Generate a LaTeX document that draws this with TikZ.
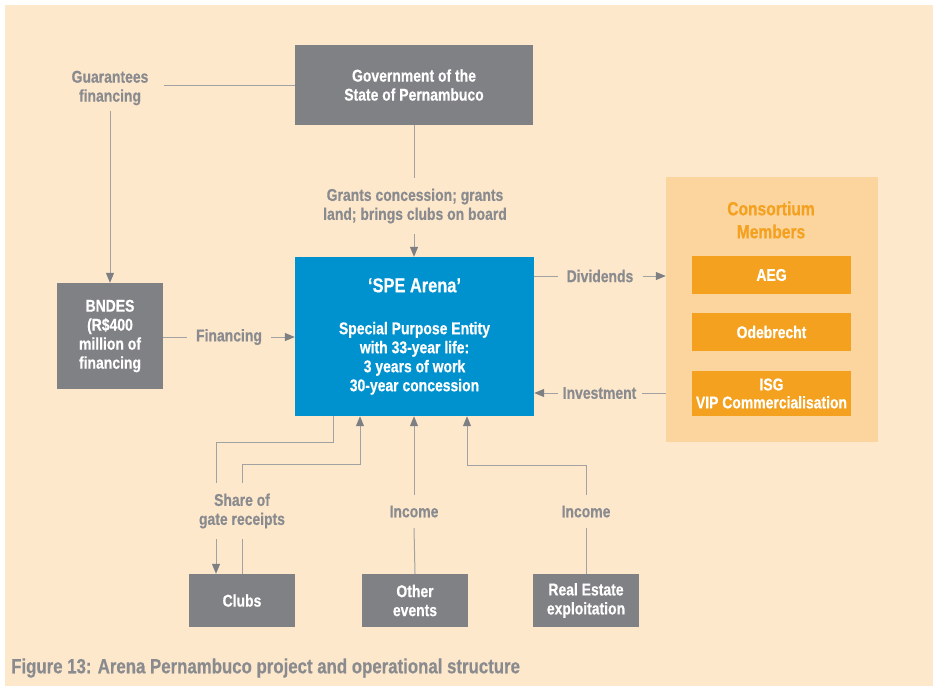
\documentclass[tikz,border=0pt]{standalone}
\usepackage{fontspec}
\setmainfont[FakeStretch=0.82, BoldFeatures={FakeBold=0.5}]{Liberation Sans}
\usetikzlibrary{arrows.meta}
\definecolor{bgpeach}{HTML}{FDE8CC}
\definecolor{boxgrey}{HTML}{808185}
\definecolor{speblue}{HTML}{0092CF}
\definecolor{panelorange}{HTML}{FCD49E}
\definecolor{memberorange}{HTML}{F4A11F}
\definecolor{labelgrey}{HTML}{8A8B8F}
\definecolor{linegrey}{HTML}{A2A2A3}
\definecolor{tipgrey}{HTML}{7E7F83}

\begin{document}
\begin{tikzpicture}[x=1pt,y=-1pt,
	every node/.style={font=\fontsize{17}{19}\selectfont\bfseries, align=center},
	greybox/.style={fill=boxgrey, text=white, inner sep=0pt, minimum width=106pt, minimum height=53pt},
	member/.style={fill=memberorange, text=white, inner sep=0pt, minimum width=159pt, minimum height=38pt},
	lbl/.style={text=labelgrey, inner xsep=9pt, inner ysep=10.5pt},
	link/.style={draw=linegrey, line width=1pt},
	flow/.style={link, -{Triangle[length=10pt,width=8pt,color=tipgrey]}}]

	\useasboundingbox (0,0) rectangle (933,686);
	\fill[bgpeach] (5,5) rectangle (933,686);

	\node[fill=panelorange, minimum width=212pt, minimum height=265pt] (panel) at (772,309) {};

	\node[greybox, minimum width=238pt, minimum height=80pt] (gov) at (414,85) {Government of the\\State of Pernambuco};
	\node[fill=speblue, text=white, inner sep=0pt, minimum width=239pt, minimum height=159pt] (spe) at (414.5,336.5)
		{{\fontsize{20}{19}\selectfont `SPE Arena'}\\[23pt]Special Purpose Entity\\with 33-year life:\\3 years of work\\30-year concession};
	\node[greybox, minimum height=106pt] (bndes) at (110,336) {BNDES\\(R\$400\\million of\\financing};
	\node[greybox] (clubs) at (242,600.5) {Clubs};
	\node[greybox] (other) at (415,600.5) {Other\\events};
	\node[greybox] (realest) at (586,600.5) {Real Estate\\exploitation};

	\node[text=memberorange, font=\fontsize{19}{23}\selectfont\bfseries] (cons) at (771,220) {Consortium\\Members};
	\node[member] (aeg) at (771.5,275) {AEG};
	\node[member] (ode) at (771.5,332) {Odebrecht};
	\node[member, minimum height=45pt, font=\fontsize{17}{18}\selectfont\bfseries] (isg) at (771.5,393.5) {ISG\\VIP Commercialisation};

	\node[lbl, inner xsep=15pt, inner ysep=6pt] (guar) at (110,88) {Guarantees\\financing};
	\node[lbl] (grants) at (415,206) {Grants concession; grants\\land; brings clubs on board};
	\node[lbl] (fin) at (229,337) {Financing};
	\node[lbl] (div) at (600,276) {Dividends};
	\node[lbl, inner xsep=5pt] (inv) at (599.5,393) {Investment};
	\node[lbl] (share) at (242,511) {Share of\\gate receipts};
	\node[lbl] (inc1) at (414,511.5) {Income};
	\node[lbl] (inc2) at (586,511.5) {Income};

	\draw[link] (gov.west) -- (gov.west -| guar.east);
	\draw[flow] (guar.south) -- (bndes.north);
	\draw[link] (gov.south) -- (grants.north -| gov.south);
	\draw[flow] (grants.south -| gov.south) -- (spe.north -| gov.south);
	\draw[link] (bndes.east |- fin) -- (fin.west);
	\draw[flow] (fin.east) -- (fin.east -| spe.west);
	\draw[link] (spe.east |- div) -- (div.west);
	\draw[flow] (div.east) -- (div.east -| panel.west);
	\draw[link] (panel.west |- inv) -- (inv.east);
	\draw[flow] (inv.west) -- (inv.west -| spe.east);

	\draw[link] ([xshift=-81.5pt]spe.south) -- ++(0,26) -| ([xshift=-26pt]share.north);
	\draw[flow] ([xshift=-26pt]share.south) -- ([xshift=-26pt]clubs.north);
	\draw[link] (clubs.north) -- (share.south);
	\draw[flow] (share.north) -- ++(0,-18) -| ([xshift=-54.5pt]spe.south);
	\draw[link] (other.north) -- (inc1.south);
	\draw[flow] (inc1.north) -- (inc1.north |- spe.south);
	\draw[link] (realest.north) -- (inc2.south);
	\draw[flow] (inc2.north) -- ++(0,-29) -| ([xshift=52.5pt]spe.south);

	\node[text=labelgrey, font=\fontsize{20.5}{20}\selectfont\bfseries, anchor=west, inner sep=0pt] (caption) at (11,668)
		{Figure 13: Arena Pernambuco project and operational structure};

\end{tikzpicture}
\end{document}
